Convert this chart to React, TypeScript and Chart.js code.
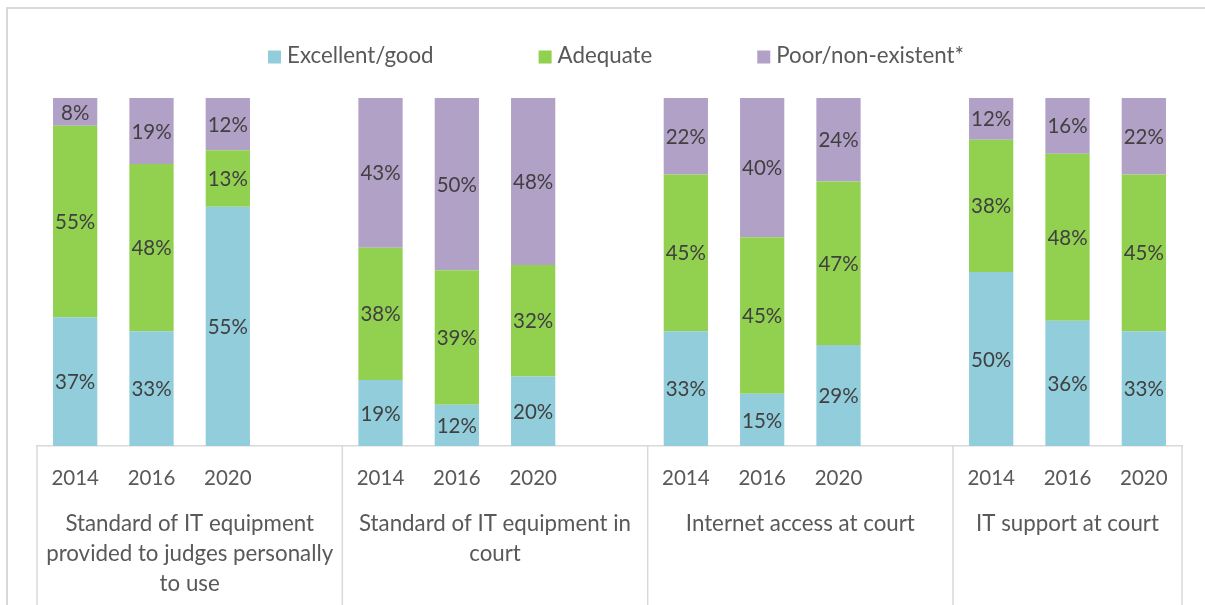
import React, { useEffect, useRef } from 'react';
import { Chart, registerables } from 'chart.js';

Chart.register(...registerables);

const years = ['2014', '2016', '2020', '', '2014', '2016', '2020', '', '2014', '2016', '2020', '', '2014', '2016', '2020'];
const groupLabels: string[][] = [
  ['Standard of IT equipment', 'provided to judges personally', 'to use'],
  ['Standard of IT equipment in', 'court'],
  ['Internet access at court'],
  ['IT support at court'],
];
const groupStarts = [0, 4, 8, 12];
const lastSlot = 14;

const seriesNames = ['Excellent/good', 'Adequate', 'Poor/non-existent*'];
const excellent = [37, 33, 55, null, 19, 12, 20, null, 33, 15, 29, null, 50, 36, 33];
const adequate = [55, 48, 13, null, 38, 39, 32, null, 45, 45, 47, null, 38, 48, 45];
const poor = [8, 19, 12, null, 43, 50, 48, null, 22, 40, 24, null, 12, 16, 22];
const colors = ['#92CDDC', '#92D050', '#B2A1C7'];

const FONT = 'Lato';
const FSIZE = 20.5;
const GSIZE = 22.3;

const rawSeries = [excellent, adequate, poor];
const totals = years.map((_, i) => rawSeries.reduce((s, arr) => s + (arr[i] ?? 0), 0));
const share = (arr: (number | null)[]) => arr.map((v, i) => (v == null || totals[i] === 0 ? null : (v / totals[i]) * 100));

const customPlugin = {
  id: 'custom',
  afterDatasetsDraw(chart: any) {
    const ctx = chart.ctx;
    ctx.save();
    ctx.font = `${FSIZE}px ${FONT}`;
    ctx.fillStyle = '#404040';
    ctx.textAlign = 'center';
    ctx.textBaseline = 'middle';
    chart.data.datasets.forEach((ds: any, di: number) => {
      const meta = chart.getDatasetMeta(di);
      meta.data.forEach((el: any, i: number) => {
        const raw = rawSeries[di][i];
        if (raw == null) return;
        const { x, y, base } = el.getProps(['x', 'y', 'base'], true);
        ctx.fillText(`${raw}%`, x, (y + base) / 2 + 1);
      });
    });
    ctx.restore();
  },
  afterDraw(chart: any) {
    const ctx = chart.ctx;
    const xs = chart.scales.x;
    const slot = xs.getPixelForValue(1) - xs.getPixelForValue(0);
    const bounds = groupStarts.map((s) => xs.getPixelForValue(s) - slot / 2);
    bounds.push(xs.getPixelForValue(lastSlot) + slot / 2);
    ctx.save();
    ctx.strokeStyle = '#D9D9D9';
    ctx.lineWidth = 1.5;
    bounds.forEach((bx) => {
      ctx.beginPath();
      ctx.moveTo(bx, xs.top);
      ctx.lineTo(bx, chart.height);
      ctx.stroke();
    });
    ctx.font = `${GSIZE}px ${FONT}`;
    ctx.fillStyle = '#595959';
    ctx.textAlign = 'center';
    ctx.textBaseline = 'middle';
    groupLabels.forEach((lines, g) => {
      const cx = (bounds[g] + bounds[g + 1]) / 2;
      lines.forEach((line, li) => {
        ctx.fillText(line, cx, xs.top + 78 + li * 30);
      });
    });
    // legend
    const box = 13;
    const gapText = 6;
    const gapItem = 105;
    let lx = 260;
    const ly = 48;
    ctx.textAlign = 'left';
    seriesNames.forEach((n, i) => {
      ctx.fillStyle = colors[i];
      ctx.fillRect(lx, ly - box / 2, box, box);
      ctx.fillStyle = '#595959';
      ctx.fillText(n, lx + box + gapText, ly - 1);
      lx += box + gapText + ctx.measureText(n).width + gapItem;
    });
    ctx.restore();
  },
};

export default function App() {
  const ref = useRef<HTMLCanvasElement | null>(null);
  useEffect(() => {
    if (!ref.current) return;
    const chart = new Chart(ref.current, {
      type: 'bar',
      data: {
        labels: years,
        datasets: rawSeries.map((arr, i) => ({
          label: seriesNames[i],
          data: share(arr),
          backgroundColor: colors[i],
          borderWidth: 0,
          barPercentage: 0.58,
          categoryPercentage: 1,
        })),
      },
      options: {
        animation: false,
        responsive: false,
        layout: { padding: { left: 29, right: 23, top: 89, bottom: 0 } },
        plugins: { legend: { display: false }, tooltip: { enabled: false } },
        scales: {
          x: {
            stacked: true,
            grid: { display: false, drawTicks: false },
            border: { display: true, color: '#D9D9D9', width: 1.5 },
            ticks: {
              autoSkip: false,
              maxRotation: 0,
              padding: 20,
              color: '#595959',
              font: { family: FONT, size: FSIZE },
            },
            afterFit: (scale: any) => {
              scale.height = 159;
            },
          },
          y: { stacked: true, display: false, min: 0, max: 100 },
        },
      },
      plugins: [customPlugin],
    });
    return () => chart.destroy();
  }, []);
  return (
    <div
      style={{
        position: 'fixed',
        left: 6,
        top: 7,
        width: 1199,
        height: 598,
        borderLeft: '2px solid #D9D9D9',
        borderTop: '2px solid #D9D9D9',
        boxSizing: 'border-box',
        background: '#fff',
      }}
    >
      <canvas ref={ref} width={1197} height={596} style={{ display: 'block' }} />
    </div>
  );
}
